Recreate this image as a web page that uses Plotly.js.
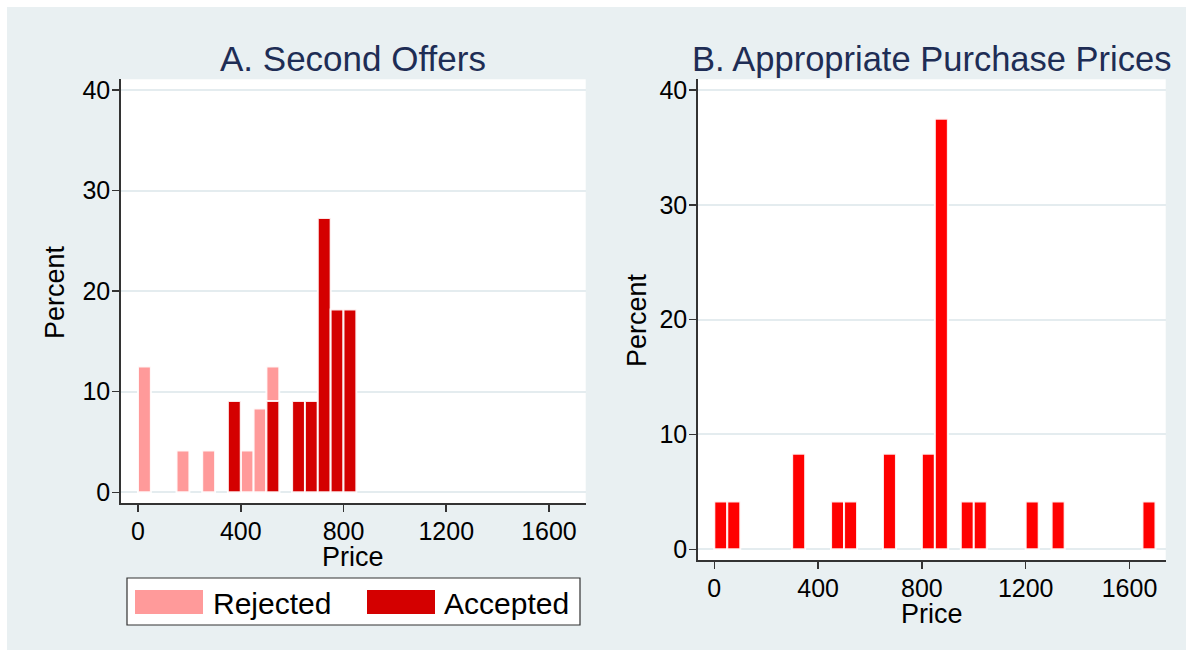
<!DOCTYPE html>
<html>
<head>
<meta charset="utf-8">
<script src="https://cdn.plot.ly/plotly-3.0.1.min.js"></script>
<style>
html,body{margin:0;padding:0;background:#ffffff;}
#chart{position:absolute;left:7px;top:7px;width:1179px;height:643px;}
</style>
</head>
<body>
<div id="chart"></div>
<script>
// Panel A: second offers (percent within group)
const rejectedPrice = [25, 175, 275, 425, 475, 525];
const rejectedPct   = [12.5, 4.17, 4.17, 4.17, 8.33, 12.5];
const acceptedPrice = [375, 525, 625, 675, 725, 775, 825];
const acceptedPct   = [9.09, 9.09, 9.09, 9.09, 27.27, 18.18, 18.18];
// Panel B: appropriate purchase prices
const purchasePrice = [25, 75, 325, 475, 525, 675, 825, 875, 975, 1025, 1225, 1325, 1675];
const purchasePct   = [4.17, 4.17, 8.33, 4.17, 4.17, 8.33, 8.33, 37.5, 4.17, 4.17, 4.17, 4.17, 4.17];
// Axis ticks
const xTicks = [0, 400, 800, 1200, 1600];
const yTicks = [0, 10, 20, 30, 40];
const panelTitles = ["A. Second Offers", "B. Appropriate Purchase Prices"];
const legendLabels = ["Rejected", "Accepted"];
const xTitle = "Price", yTitle = "Percent";

const FONT = "Liberation Sans, Arial, sans-serif";
const cReject = "#ff9a9a", cAccept = "#d40000", cPurchase = "#ff0000";
const W = 1179, H = 643;
const px = X => (X - 7) / W;
const py = Y => 1 - (Y - 7) / H;

const barLine = {color: "rgba(255,255,255,0.9)", width: 2};
const traces = [
  {type: "bar", x: rejectedPrice, y: rejectedPct, width: 50, marker: {color: cReject, line: barLine}, xaxis: "x", yaxis: "y", name: legendLabels[0], hoverinfo: "x+y"},
  {type: "bar", x: acceptedPrice, y: acceptedPct, width: 50, marker: {color: cAccept, line: barLine}, xaxis: "x", yaxis: "y", name: legendLabels[1], hoverinfo: "x+y"},
  {type: "bar", x: purchasePrice, y: purchasePct, width: 50, marker: {color: cPurchase, line: barLine}, xaxis: "x2", yaxis: "y2", name: "Purchase", hoverinfo: "x+y"}
];

const axisCommon = {
  showline: true, linecolor: "#333", linewidth: 1.5,
  ticks: "outside", ticklen: 7, tickwidth: 1.5, tickcolor: "#333",
  tickfont: {family: FONT, size: 25, color: "#000"},
  zeroline: false, fixedrange: true
};
const xCommon = Object.assign({}, axisCommon, {
  tickmode: "array", tickvals: xTicks, ticktext: xTicks.map(String), showgrid: false,
  ticklabelstandoff: -2
});
const yCommon = Object.assign({}, axisCommon, {
  tickmode: "array", tickvals: yTicks, ticktext: yTicks.map(String),
  showgrid: true, gridcolor: "#e4ecef", gridwidth: 2, ticklabelstandoff: -3
});

const ann = (text, X, Y, size, color, extra) => Object.assign({
  text: text, xref: "paper", yref: "paper", x: px(X), y: py(Y),
  xanchor: "center", yanchor: "middle", showarrow: false,
  font: {family: FONT, size: size, color: color}
}, extra || {});

const layout = {
  width: W, height: H,
  margin: {l: 0, r: 0, t: 0, b: 0},
  paper_bgcolor: "#e9f0f2", plot_bgcolor: "#ffffff",
  showlegend: false, barmode: "overlay", bargap: 0,
  font: {family: FONT},
  xaxis: Object.assign({}, xCommon, {domain: [px(120.7), px(585.7)], range: [-67.4, 1743], anchor: "y"}),
  yaxis: Object.assign({}, yCommon, {domain: [py(503.3), py(79.3)], range: [-1.09, 41.06], anchor: "x"}),
  xaxis2: Object.assign({}, xCommon, {domain: [px(697.7), px(1165.7)], range: [-64, 1739.5], anchor: "y2"}),
  yaxis2: Object.assign({}, yCommon, {domain: [py(560), py(79.3)], range: [-0.93, 40.93], anchor: "x2"}),
  shapes: [
    {type: "rect", xref: "paper", yref: "paper", x0: px(127), x1: px(580), y0: py(625), y1: py(578), fillcolor: "#ffffff", line: {color: "#333", width: 1.2}},
    {type: "rect", xref: "paper", yref: "paper", x0: px(135), x1: px(203), y0: py(614), y1: py(590), fillcolor: cReject, line: {width: 0}},
    {type: "rect", xref: "paper", yref: "paper", x0: px(367), x1: px(435), y0: py(614), y1: py(590), fillcolor: cAccept, line: {width: 0}}
  ],
  annotations: [
    ann(panelTitles[0], 353.2, 59, 35, "#1e2d55"),
    ann(panelTitles[1], 931.7, 59, 34.5, "#1e2d55"),
    ann(xTitle, 353.2, 557, 27, "#000"),
    ann(xTitle, 931.7, 614, 27, "#000"),
    ann(yTitle, 55, 292, 27, "#000", {textangle: -90}),
    ann(yTitle, 637, 320, 27, "#000", {textangle: -90}),
    ann(legendLabels[0], 211, 603, 30, "#000", {xanchor: "left"}),
    ann(legendLabels[1], 442, 603, 30, "#000", {xanchor: "left"})
  ]
};

Plotly.newPlot("chart", traces, layout, {displayModeBar: false, staticPlot: true});
</script>
</body>
</html>
